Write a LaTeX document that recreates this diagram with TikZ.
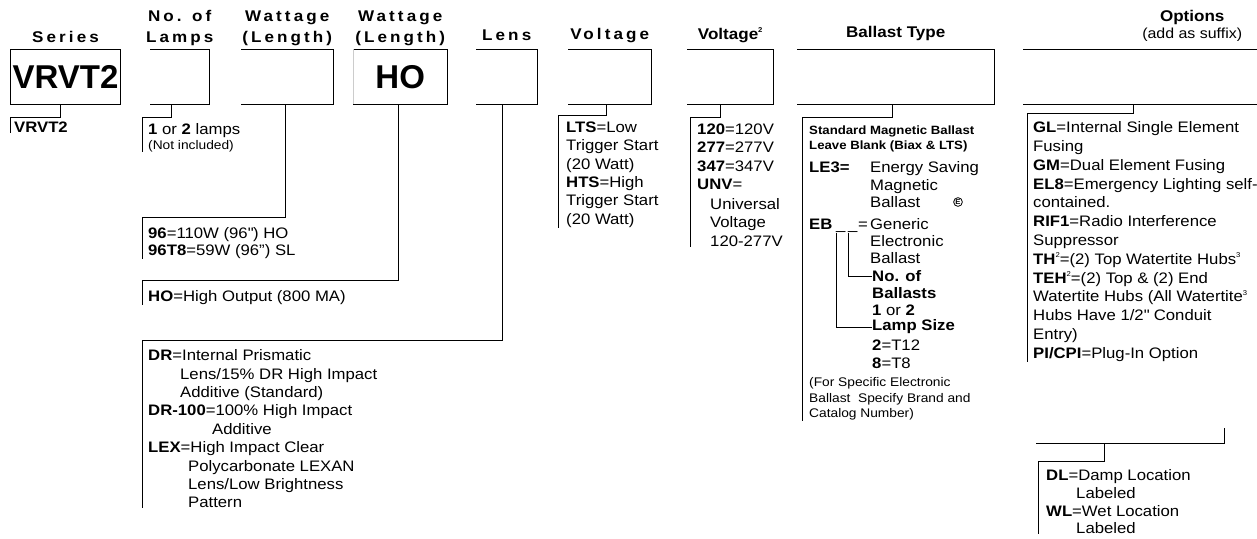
\documentclass[tikz,border=0pt]{standalone}
\usepackage{fontspec}
\setmainfont[FakeStretch=1.1]{Liberation Sans}
\newfontfamily\bigfont{Liberation Sans}
\newfontfamily\spacedfont[LetterSpace=20,FakeStretch=1.1]{Liberation Sans}
\usetikzlibrary{positioning}

\newcommand{\bodyfont}{\fontsize{15.2}{18.4}\selectfont}
\newcommand{\smallfont}{\fontsize{12.5}{15.5}\selectfont}
\newcommand{\sups}[1]{\raisebox{0.45em}{\fontsize{7}{7}\selectfont #1}}

\tikzset{
  slot/.style={minimum width=#1,minimum height=55pt,inner sep=0pt,anchor=north west},
  frame/.style={line width=1pt},
  lead/.style={line width=1pt},
  hdr/.style={font=\fontsize{15.5}{19}\selectfont\bfseries,align=center,inner sep=0pt},
  sphdr/.style={font=\fontsize{15.5}{21}\spacedfont\bfseries,align=center,inner sep=0pt},
  bigtxt/.style={font=\bigfont\fontsize{33}{33}\selectfont\bfseries,inner sep=0pt},
  txt/.style={font=\bodyfont,align=left,inner xsep=6pt,inner ysep=0pt},
  sub/.style={font=\smallfont,align=left,inner xsep=7pt,inner ysep=0pt},
  key/.style={font=\bodyfont\bfseries,inner sep=0pt},
  emark/.style={circle,draw,line width=0.8pt,inner sep=0.6pt,font=\fontsize{7}{7}\selectfont\bfseries}
}

\begin{document}
\begin{tikzpicture}[x=1pt,y=-1pt]
  \useasboundingbox (0,0) rectangle (1257,538);

  % code slots
  \node[slot=110pt,draw,frame,bigtxt] (series) at (10,49) {VRVT2};
  \node[slot=59pt] (lamps) at (150,49) {};
  \node[slot=92pt] (watt) at (241,49) {};
  \node[slot=94pt,bigtxt] (ho) at (353,49) {HO};
  \node[slot=61pt] (lens) at (476,49) {};
  \node[slot=83pt] (volt) at (568,49) {};
  \node[slot=86pt] (volt2) at (687,49) {};
  \node[slot=197pt] (ball) at (797,49) {};
  \node[slot=234pt] (opts) at (1023,49) {};
  \node[slot=188pt,minimum height=15pt] (opts2) at (1036,428) {};

  \draw[frame] (lamps.north west) -| (lamps.south east) -- (lamps.south west);
  \draw[frame] (watt.north west) -| (watt.south east) -- (watt.south west);
  \draw[frame] (ho.north west) -| (ho.south east) -- (ho.south west);
  \draw[frame,gray!40] (ho.north west) -- (ho.south west);
  \draw[frame] (lens.north west) -| (lens.south east) -- (lens.south west);
  \draw[frame] (volt.north west) -| (volt.south east) -- (volt.south west);
  \draw[frame] (volt2.north west) -| (volt2.south east) -- (volt2.south west);
  \draw[frame] (ball.north west) -| (ball.south east) -- (ball.south west);
  \draw[frame] (opts.north west) -- (opts.north east) (opts.south west) -- (opts.south east);
  \draw[frame] (opts2.north east) -- (opts2.south east) -- (opts2.south west);

  % headings
  \node[sphdr,above=6.5pt of series] (hSeries) {Series};
  \node[sphdr,above=3pt of lamps] (hLamps) {No. of\\Lamps};
  \node[sphdr,above=3pt of watt] (hWatt) {Wattage\\(Length)};
  \node[sphdr,above=3pt of ho] (hHo) {Wattage\\(Length)};
  \node[sphdr,above=8.5pt of lens] (hLens) {Lens};
  \node[sphdr,above=6pt of volt] (hVolt) {Voltage};
  \node[hdr,above=6pt of volt2] (hVolt2) {Voltage\sups{2}};
  \node[hdr,above=8pt of ball] (hBall) {Ballast Type};
  \node[hdr,font=\fontsize{14.5}{17}\selectfont,above=7pt of opts,xshift=52pt] (hOpts2) {(add as suffix)};
  \node[hdr,above=3pt of hOpts2] (hOpts) {Options};

  % elbows
  \coordinate (serElb) at (10,117);
  \coordinate (lampElb) at (142,117);
  \coordinate (wattElb) at (142,217);
  \coordinate (hoElb) at (142,280);
  \coordinate (lensElb) at (142,340);
  \coordinate (voltElb) at (558,115);
  \coordinate (volt2Elb) at (690,117);
  \coordinate (ballElb) at (802,117);
  \coordinate (optElb) at (1027,113);
  \coordinate (opt2Elb) at (1038,461);

  % choices
  \node[txt,inner xsep=4pt,font=\bodyfont\bfseries,below right=4.5pt and 0pt of serElb] (serTxt) {VRVT2};
  \node[txt,below right=6.5pt and 0pt of lampElb] (lampTxt)
    {\textbf{1} or \textbf{2} lamps\\[-4pt]{\smallfont (Not included)}};
  \node[txt,below right=10.5pt and 0pt of wattElb] (wattTxt)
    {\textbf{96}=110W (96\textquotedbl) HO\\[-1.5pt]\textbf{96T8}=59W (96”) SL};
  \node[txt,below right=10.5pt and 0pt of hoElb] (hoTxt) {\textbf{HO}=High Output (800 MA)};
  \node[txt,below right=9.5pt and 0pt of lensElb] (lensTxt)
    {\textbf{DR}=Internal Prismatic\\
     \hspace*{32pt}Lens/15\% DR High Impact\\
     \hspace*{32pt}Additive (Standard)\\
     \textbf{DR-100}=100\% High Impact\\
     \hspace*{64pt}Additive\\
     \textbf{LEX}=High Impact Clear\\
     \hspace*{40pt}Polycarbonate LEXAN\\
     \hspace*{40pt}Lens/Low Brightness\\
     \hspace*{40pt}Pattern};
  \node[txt,inner xsep=8pt,below right=6.5pt and 0pt of voltElb] (voltTxt)
    {\textbf{LTS}=Low\\Trigger Start\\(20 Watt)\\\textbf{HTS}=High\\Trigger Start\\(20 Watt)};
  \node[txt,inner xsep=7pt,below right=6.5pt and 0pt of volt2Elb] (volt2Txt)
    {\textbf{120}=120V\\\textbf{277}=277V\\\textbf{347}=347V\\\textbf{UNV}=\\[1.5pt]
     \hspace*{13pt}Universal\\\hspace*{13pt}Voltage\\\hspace*{13pt}120-277V};

  % ballast column
  \node[sub,font=\fontsize{12}{15}\selectfont\bfseries,below right=8.5pt and 0pt of ballElb] (ballHead)
    {Standard Magnetic Ballast\\Leave Blank (Biax \& LTS)};
  \node[key,anchor=west] (le3) at (809,167) {LE3=};
  \node[txt,inner sep=0pt,anchor=north west,font=\fontsize{15.2}{17.5}\selectfont] (le3Txt) at (870,161.5)
    {Energy Saving\\Magnetic\\Ballast};
  \node[emark] (eMark) at (958,202) {E};
  \node[key,anchor=base west] (eb) at (809,229.5) {EB};
  \node[inner sep=0pt,font=\bodyfont,anchor=base west] (us1) at (836,229.5) {\_};
  \node[inner sep=0pt,font=\bodyfont,anchor=base west] (us2) at (848,229.5) {\_};
  \node[inner sep=0pt,font=\bodyfont,anchor=base west] (ebEq) at (858,229.5) {=};
  \node[txt,inner sep=0pt,anchor=north west,font=\fontsize{15.2}{17}\selectfont] (ebTxt) at (870,218.5)
    {Generic\\Electronic\\Ballast};
  \node[key,anchor=west] (noBal) at (872,276) {No. of};
  \node[txt,inner sep=0pt,anchor=north west,font=\fontsize{15.2}{17}\selectfont] (noBalTxt) at (872,287.5)
    {\textbf{Ballasts}\\\textbf{1} or \textbf{2}};
  \node[key,anchor=west] (lampSz) at (872,327) {Lamp Size};
  \node[txt,inner sep=0pt,anchor=north west,font=\fontsize{15.2}{18}\selectfont] (lampSzTxt) at (872,339.5)
    {\textbf{2}=T12\\\textbf{8}=T8};
  \node[sub,anchor=north west] (ballFoot) at (802,377.5)
    {(For Specific Electronic\\Ballast\ \ Specify Brand and\\Catalog Number)};

  % options
  \node[txt,below right=8.5pt and 0pt of optElb,font=\fontsize{15.2}{18.8}\selectfont] (optTxt)
    {\textbf{GL}=Internal Single Element\\
     Fusing\\
     \textbf{GM}=Dual Element Fusing\\
     \textbf{EL8}=Emergency Lighting self-\\
     contained.\\
     \textbf{RIF1}=Radio Interference\\
     Suppressor\\
     \textbf{TH}\sups{2}=(2) Top Watertite Hubs\sups{3}\\
     \textbf{TEH}\sups{2}=(2) Top \& (2) End\\
     Watertite Hubs (All Watertite\sups{3}\\
     Hubs Have 1/2\textquotedbl\ Conduit\\
     Entry)\\
     \textbf{PI/CPI}=Plug-In Option};
  \node[txt,inner xsep=8pt,below right=8.5pt and 0pt of opt2Elb,font=\fontsize{15.2}{17.7}\selectfont] (opt2Txt)
    {\textbf{DL}=Damp Location\\
     \hspace*{30pt}Labeled\\
     \textbf{WL}=Wet Location\\
     \hspace*{30pt}Labeled};

  % leads
  \draw[lead] ([xshift=-5pt]series.south) |- (serElb) -- (serElb |- serTxt.south);
  \draw[lead] ([xshift=-8.5pt]lamps.south) |- (lampElb) -- (lampElb |- lampTxt.south);
  \draw[lead] ([xshift=-2pt]watt.south) |- (wattElb) -- (wattElb |- wattTxt.south);
  \draw[lead] ([xshift=-2pt]ho.south) |- (hoElb) -- (hoElb |- hoTxt.south);
  \draw[lead] ([xshift=-4.5pt]lens.south) |- (lensElb) -- (lensElb |- lensTxt.south);
  \draw[lead] ([xshift=-3.5pt]volt.south) |- (voltElb) -- (voltElb |- voltTxt.south);
  \draw[lead] ([xshift=-10pt]volt2.south) |- (volt2Elb) -- (volt2Elb |- volt2Txt.south);
  \draw[lead] ([xshift=-3.5pt]ball.south) |- (ballElb) -- (ballElb |- ballFoot.south);
  \draw[lead] ([xshift=-7pt]opts.south) |- (optElb) -- (optElb |- optTxt.south);
  \draw[lead] ([xshift=-26pt]opts2.south) |- (opt2Elb) -- (opt2Elb |- opt2Txt.south);
  \draw[lead] (us2.south west) |- (noBal.west);
  \draw[lead] (us1.south west) |- (lampSz.west);
\end{tikzpicture}
\end{document}
